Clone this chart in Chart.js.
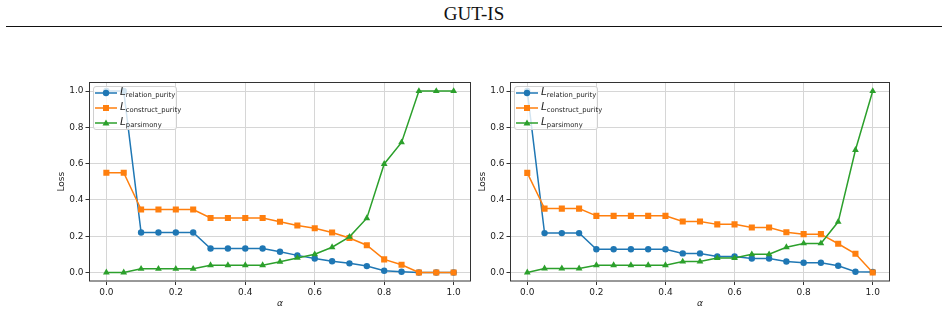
<!DOCTYPE html>
<html>
<head>
<meta charset="utf-8">
<script src="https://cdn.jsdelivr.net/npm/chart.js@4.4.1/dist/chart.umd.min.js"></script>
<style>
  body { margin: 0; width: 948px; height: 313px; background: #fff; position: relative; overflow: hidden; }
  #title { position: absolute; left: 0; width: 948px; top: 3px; text-align: center;
           font-family: "Liberation Serif", "DejaVu Serif", serif; font-size: 19px; color: #111; }
  #rule { position: absolute; left: 6px; width: 936px; top: 26px; height: 1.4px; background: #111; }
  .box { position: absolute; top: 70px; height: 243px; }
  .legend { position: absolute; width: 82px; height: 42px; border: 1px solid #d0d0d0; border-radius: 3px;
            background: rgba(255,255,255,0.8); font-family: "DejaVu Sans", sans-serif; color: #222; }
  .row { position: absolute; left: 1px; height: 14px; display: flex; align-items: center; }
  .row svg { display: block; }
  .lbl { margin-left: 3px; font-size: 10.5px; white-space: nowrap; line-height: 14px; }
  .lbl sub { font-size: 6.8px; vertical-align: -2px; }
</style>
</head>
<body>
<div id="title">GUT-IS</div>
<div id="rule"></div>

<div class="box" id="boxL" style="left:39px; width:442px;"><canvas id="chartL"></canvas>
  <div class="legend" id="legL"></div></div>
<div class="box" id="boxR" style="left:460px; width:440px;"><canvas id="chartR"></canvas>
  <div class="legend" id="legR"></div></div>

<script>
// x-Werte (alpha)
const alpha = [0.0, 0.05, 0.1, 0.15, 0.2, 0.25, 0.3, 0.35, 0.4, 0.45, 0.5,
               0.55, 0.6, 0.65, 0.7, 0.75, 0.8, 0.85, 0.9, 0.95, 1.0];

// linkes Diagramm
const relLeft = [1.0, 1.0, 0.22, 0.22, 0.22, 0.22, 0.132, 0.132, 0.132, 0.132, 0.114,
                 0.094, 0.077, 0.062, 0.05, 0.035, 0.009, 0.004, 0, 0, 0];
const conLeft = [0.55, 0.55, 0.347, 0.347, 0.347, 0.347, 0.30, 0.30, 0.30, 0.30, 0.279,
                 0.259, 0.244, 0.22, 0.19, 0.15, 0.072, 0.042, 0, 0, 0];
const parLeft = [0, 0, 0.02, 0.02, 0.02, 0.02, 0.04, 0.04, 0.04, 0.04, 0.059,
                 0.08, 0.10, 0.139, 0.196, 0.299, 0.598, 0.717, 1.0, 1.0, 1.0];

// rechtes Diagramm
const relRight = [1.0, 0.217, 0.217, 0.217, 0.128, 0.128, 0.128, 0.128, 0.128, 0.105, 0.105,
                  0.088, 0.088, 0.077, 0.077, 0.06, 0.053, 0.053, 0.037, 0.004, 0.002];
const conRight = [0.549, 0.352, 0.352, 0.352, 0.312, 0.312, 0.312, 0.312, 0.312, 0.281, 0.281,
                  0.265, 0.265, 0.248, 0.248, 0.222, 0.211, 0.211, 0.158, 0.103, 0];
const parRight = [0, 0.022, 0.022, 0.022, 0.04, 0.04, 0.04, 0.04, 0.04, 0.06, 0.06,
                  0.079, 0.079, 0.10, 0.10, 0.139, 0.16, 0.16, 0.279, 0.675, 1.0];

const xTicks = [0.0, 0.2, 0.4, 0.6, 0.8, 1.0];
const yTicks = [0.0, 0.2, 0.4, 0.6, 0.8, 1.0];

const seriesNames = ['relation_purity', 'construct_purity', 'parsimony'];
const colors = ['#1f77b4', '#ff7f0e', '#2ca02c'];
const shapes = ['circle', 'rect', 'triangle'];
const radii = [3.2, 4.3, 3.9];

const tickFont = { family: 'DejaVu Sans', size: 9 };

// Rahmen um die Achsen (wie matplotlib spines) + Legende platzieren
const framePlugin = {
  id: 'frame',
  afterDraw(chart) {
    const { ctx, chartArea: a } = chart;
    ctx.save();
    ctx.strokeStyle = '#333';
    ctx.lineWidth = 1;
    ctx.strokeRect(a.left + 0.5, a.top + 0.5, a.right - a.left - 1, a.bottom - a.top - 1);
    ctx.restore();
    const leg = document.getElementById(chart.options.legendId);
    leg.style.left = (a.left + 4) + 'px';
    leg.style.top = (a.top + 4) + 'px';
  }
};

function markerSvg(i) {
  const c = colors[i];
  let m;
  if (i === 0) m = `<circle cx="11" cy="5" r="3.2" fill="${c}"/>`;
  else if (i === 1) m = `<rect x="8" y="2" width="6" height="6" fill="${c}"/>`;
  else m = `<polygon points="11,1.5 14.5,7.5 7.5,7.5" fill="${c}"/>`;
  return `<svg width="22" height="10"><line x1="0" y1="5" x2="22" y2="5" stroke="${c}" stroke-width="1.5"/>${m}</svg>`;
}

function buildLegend(id) {
  const el = document.getElementById(id);
  el.innerHTML = seriesNames.map((n, i) =>
    `<div class="row" style="top:${i * 15 - 1}px">${markerSvg(i)}<span class="lbl"><i>L</i><sub>${n}</sub></span></div>`
  ).join('');
}

function makeChart(canvasId, legendId, rel, con, par) {
  buildLegend(legendId);
  const values = [rel, con, par];
  new Chart(document.getElementById(canvasId), {
    type: 'line',
    data: {
      datasets: values.map((vals, i) => ({
        label: 'L_' + seriesNames[i],
        data: alpha.map((a, k) => ({ x: a, y: vals[k] })),
        borderColor: colors[i],
        backgroundColor: colors[i],
        borderWidth: 1.5,
        pointStyle: shapes[i],
        pointRadius: radii[i],
        pointBorderWidth: 0,
        order: 3 - i,
        tension: 0
      }))
    },
    options: {
      legendId: legendId,
      responsive: true,
      maintainAspectRatio: false,
      animation: false,
      layout: { padding: { left: 0, top: 12, right: 10, bottom: 0 } },
      plugins: { legend: { display: false }, tooltip: { enabled: false } },
      scales: {
        x: {
          type: 'linear',
          min: -0.05,
          max: 1.05,
          afterBuildTicks: ax => { ax.ticks = xTicks.map(v => ({ value: v })); },
          afterFit: ax => { ax.height = 31.5; },
          ticks: { callback: v => v.toFixed(1), font: tickFont, color: '#222', padding: 2, maxRotation: 0 },
          grid: { color: '#d6d6d6', tickColor: '#333', tickLength: 3.5, lineWidth: 1 },
          border: { display: false },
          title: { display: true, text: 'α', color: '#222',
                   font: { family: 'DejaVu Sans', size: 9, style: 'italic' }, padding: { top: 0, bottom: 4 } }
        },
        y: {
          type: 'linear',
          min: -0.05,
          max: 1.05,
          afterBuildTicks: ax => { ax.ticks = yTicks.map(v => ({ value: v })); },
          afterFit: ax => { ax.width = 50; },
          ticks: { callback: v => v.toFixed(1), font: tickFont, color: '#222', padding: 2 },
          grid: { color: '#d6d6d6', tickColor: '#333', tickLength: 3.5, lineWidth: 1 },
          border: { display: false },
          title: { display: true, text: 'Loss', color: '#222',
                   font: { family: 'DejaVu Sans', size: 9 }, padding: { top: 17, bottom: 0 } }
        }
      }
    },
    plugins: [framePlugin]
  });
}

makeChart('chartL', 'legL', relLeft, conLeft, parLeft);
makeChart('chartR', 'legR', relRight, conRight, parRight);
</script>
</body>
</html>
